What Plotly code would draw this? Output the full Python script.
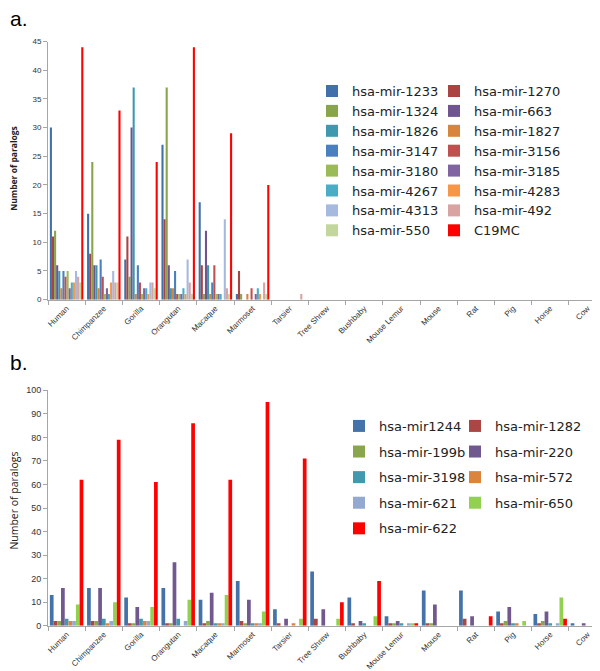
import plotly.graph_objects as go

species = ["Human", "Chimpanzee", "Gorilla", "Orangutan", "Macaque", "Marmoset", "Tarsier",
           "Tree Shrew", "Bushbaby", "Mouse Lemur", "Mouse", "Rat", "Pig", "Horse", "Cow"]

# ---- panel a data (values for the 15 species) ----
a_names = ["hsa-mir-1233", "hsa-mir-1270", "hsa-mir-1324", "hsa-mir-663", "hsa-mir-1826",
           "hsa-mir-1827", "hsa-mir-3147", "hsa-mir-3156", "hsa-mir-3180", "hsa-mir-3185",
           "hsa-mir-4267", "hsa-mir-4283", "hsa-mir-4313", "hsa-mir-492", "hsa-mir-550", "C19MC"]
a_mir1233 = [30, 15, 7, 27, 17, 1, 0, 0, 0, 0, 0, 0, 0, 0, 0]
a_mir1270 = [11, 8, 11, 14, 6, 5, 0, 0, 0, 0, 0, 0, 0, 0, 0]
a_mir1324 = [12, 24, 4, 37, 1, 1, 0, 0, 0, 0, 0, 0, 0, 0, 0]
a_mir663 = [6, 6, 30, 6, 12, 0, 0, 0, 0, 0, 0, 0, 0, 0, 0]
a_mir1826 = [5, 6, 37, 2, 6, 0, 0, 0, 0, 0, 0, 0, 0, 0, 0]
a_mir1827 = [2, 2, 1, 2, 1, 1, 0, 0, 0, 0, 0, 0, 0, 0, 0]
a_mir3147 = [5, 7, 6, 5, 3, 0, 0, 0, 0, 0, 0, 0, 0, 0, 0]
a_mir3156 = [4, 4, 3, 1, 6, 2, 0, 0, 0, 0, 0, 0, 0, 0, 0]
a_mir3180 = [5, 1, 1, 1, 1, 0, 0, 0, 0, 0, 0, 0, 0, 0, 0]
a_mir3185 = [2, 2, 2, 1, 1, 1, 0, 0, 0, 0, 0, 0, 0, 0, 0]
a_mir4267 = [3, 1, 2, 2, 1, 2, 0, 0, 0, 0, 0, 0, 0, 0, 0]
a_mir4283 = [3, 3, 1, 1, 0, 1, 0, 0, 0, 0, 0, 0, 0, 0, 0]
a_mir4313 = [5, 5, 3, 7, 14, 0, 0, 0, 0, 0, 0, 0, 0, 0, 0]
a_mir492 = [4, 3, 3, 3, 2, 3, 1, 0, 0, 0, 0, 0, 0, 0, 0]
a_mir550 = [3, 3, 2, 1, 1, 1, 0, 0, 0, 0, 0, 0, 0, 0, 0]
a_c19mc = [44, 33, 24, 44, 29, 20, 0, 0, 0, 0, 0, 0, 0, 0, 0]
a_values = [a_mir1233, a_mir1270, a_mir1324, a_mir663, a_mir1826, a_mir1827, a_mir3147, a_mir3156,
            a_mir3180, a_mir3185, a_mir4267, a_mir4283, a_mir4313, a_mir492, a_mir550, a_c19mc]
a_colors = ["#4170AA", "#A94442", "#88A54E", "#6F5590", "#3F98AE", "#D9843D", "#4A7FC0", "#C0504D",
            "#9BBB59", "#8064A2", "#4BACC6", "#F79646", "#A6B9DE", "#D9A3A2", "#C3D69B", "#FF0000"]

# ---- panel b data ----
b_names = ["hsa-mir1244", "hsa-mir-1282", "hsa-mir-199b", "hsa-mir-220", "hsa-mir-3198",
           "hsa-mir-572", "hsa-mir-621", "hsa-mir-650", "hsa-mir-622"]
b_mir1244 = [13, 16, 12, 16, 11, 19, 7, 23, 12, 4, 15, 15, 6, 5, 1]
b_mir1282 = [2, 2, 1, 1, 1, 2, 1, 3, 1, 1, 1, 3, 1, 1, 0]
b_mir199b = [2, 2, 1, 1, 2, 1, 0, 0, 0, 1, 1, 0, 2, 2, 0]
b_mir220 = [16, 16, 8, 27, 14, 11, 3, 7, 2, 2, 9, 4, 8, 6, 1]
b_mir3198 = [3, 3, 3, 3, 1, 1, 0, 0, 1, 1, 0, 0, 1, 1, 0]
b_mir572 = [2, 1, 2, 0, 1, 1, 1, 0, 0, 0, 0, 0, 1, 0, 0]
b_mir621 = [2, 2, 2, 2, 1, 1, 0, 0, 0, 1, 0, 0, 0, 1, 0]
b_mir650 = [9, 10, 8, 11, 13, 6, 3, 3, 4, 1, 0, 0, 2, 12, 0]
b_mir622 = [62, 79, 61, 86, 62, 95, 71, 10, 19, 1, 0, 4, 0, 3, 0]
b_values = [b_mir1244, b_mir1282, b_mir199b, b_mir220, b_mir3198, b_mir572, b_mir621, b_mir650, b_mir622]
b_colors = ["#4473AA", "#AA4643", "#89A54E", "#71588F", "#4198AF", "#DB843D", "#93A9CF", "#92D050", "#FF0000"]

a_yticks = [0, 5, 10, 15, 20, 25, 30, 35, 40, 45]
b_yticks = [0, 10, 20, 30, 40, 50, 60, 70, 80, 90, 100]

W, H = 600, 671
ML, MR = 40, 2
PW = W - ML - MR


def px_x(p):
    return (p - ML) / PW


def px_y(p):
    return 1 - p / H


fig = go.Figure()
# legend columns: even index -> left column, odd index -> right column (row-wise order)
for i, (name, vals, col) in enumerate(zip(a_names, a_values, a_colors)):
    fig.add_trace(go.Bar(x=species, y=vals, name=name, marker_color=col, marker_line_width=0,
                         xaxis="x", yaxis="y", legend="legend" if i % 2 == 0 else "legend2",
                         legendgroup="a_" + name))
for i, (name, vals, col) in enumerate(zip(b_names, b_values, b_colors)):
    fig.add_trace(go.Bar(x=species, y=vals, name=name, marker_color=col, marker_line_width=0,
                         xaxis="x2", yaxis="y2", legend="legend3" if i % 2 == 0 else "legend4",
                         legendgroup="b_" + name))

FONT = "Open Sans, Noto Sans, sans-serif"
TICKFONT = "Liberation Sans, Arial, sans-serif"
axis_line = "#A6A6A6"

xcommon = dict(type="category", tickangle=-45, showline=True, linecolor=axis_line, linewidth=1,
               ticks="outside", tickson="boundaries", ticklen=4, tickcolor=axis_line,
               showgrid=False, zeroline=False, fixedrange=True)
ycommon = dict(showline=True, linecolor=axis_line, linewidth=1, ticks="outside", ticklen=4,
               tickcolor=axis_line, showgrid=False, zeroline=False)

leg_font = dict(family="DejaVu Sans", size=13, color="#222")


def leg(xp, yp, gap):
    return dict(orientation="v", x=px_x(xp), y=px_y(yp), xanchor="left", yanchor="top",
                traceorder="grouped", tracegroupgap=gap, itemwidth=30,
                font=leg_font, bgcolor="rgba(0,0,0,0)", borderwidth=0)


fig.update_layout(
    width=W, height=H,
    margin=dict(l=ML, r=MR, t=0, b=0),
    paper_bgcolor="white", plot_bgcolor="white",
    font=dict(family=FONT, color="#222"),
    barmode="group", bargap=0.1, bargroupgap=0,
    xaxis=dict(xcommon, domain=[0, 1], anchor="y", tickfont=dict(family=TICKFONT, size=8, color="#333")),
    yaxis=dict(ycommon, domain=[px_y(291), px_y(29)], anchor="x", range=[0, 45],
               tickvals=a_yticks, tickfont=dict(family=TICKFONT, size=8, color="#333")),
    xaxis2=dict(xcommon, domain=[0, 1], anchor="y2", tickfont=dict(family=TICKFONT, size=8, color="#333")),
    yaxis2=dict(ycommon, domain=[px_y(622), px_y(383)], anchor="x2", range=[0, 100],
                tickvals=b_yticks, tickfont=dict(family=TICKFONT, size=9, color="#333")),
    legend=leg(304, 64, 0),
    legend2=leg(426, 64, 0),
    legend3=leg(331, 404, 5.7),
    legend4=leg(447, 404, 5.7),
    annotations=[
        dict(text="a.", x=px_x(1), y=px_y(-7), xref="paper", yref="paper", xanchor="left",
             yanchor="top", showarrow=False, borderpad=0,
             font=dict(family="Liberation Sans", size=21, color="#000")),
        dict(text="b.", x=px_x(1), y=px_y(342), xref="paper", yref="paper", xanchor="left",
             yanchor="top", showarrow=False, borderpad=0,
             font=dict(family="Liberation Sans", size=21, color="#000")),
        dict(text="<b>Number of paralogs</b>", x=px_x(6), y=px_y(158), xref="paper", yref="paper",
             xanchor="center", yanchor="middle", textangle=-90, showarrow=False,
             font=dict(family=FONT, size=8.5, color="#222")),
        dict(text="Number of paralogs", x=px_x(6), y=px_y(495), xref="paper", yref="paper",
             xanchor="center", yanchor="middle", textangle=-90, showarrow=False,
             font=dict(family=FONT, size=10.5, color="#222")),
    ],
)

fig.write_html("out.html")
